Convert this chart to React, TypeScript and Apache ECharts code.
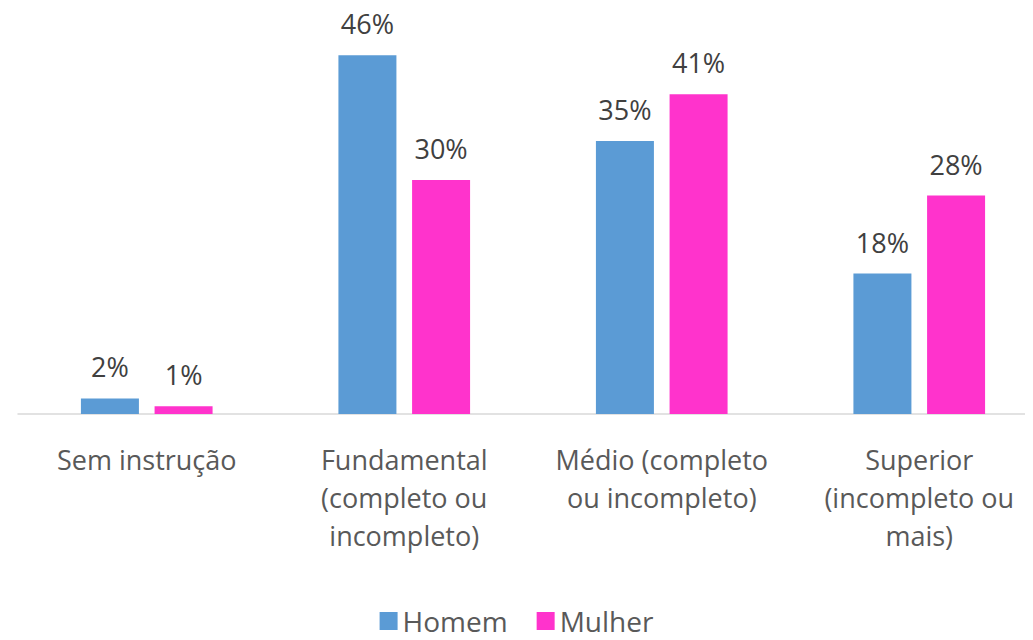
import React, { useEffect, useRef } from "react";
import * as echarts from "echarts";

const categories = [
  "Sem instrução",
  "Fundamental\n(completo ou\nincompleto)",
  "Médio (completo\nou incompleto)",
  "Superior\n(incompleto ou\nmais)",
];
const homem = [2, 46, 35, 18];
const mulher = [1, 30, 41, 28];

const FONT = "'Open Sans', 'Noto Sans', sans-serif";

export default function App() {
  const ref = useRef<HTMLDivElement>(null);
  useEffect(() => {
    const chart = echarts.init(ref.current!, undefined, { renderer: "svg" });
    const label = {
      show: true,
      position: "top",
      distance: 18,
      formatter: "{c}%",
      color: "#404040",
      fontSize: 27,
      fontFamily: FONT,
    };
    chart.setOption({
      animation: false,
      textStyle: { fontFamily: FONT },
      grid: {
        left: 18,
        top: 24,
        width: 1030,
        height: 390,
        containLabel: false,
        outerBoundsMode: "none",
      },
      legend: {
        bottom: 0,
        left: "center",
        itemWidth: 18,
        itemHeight: 18,
        itemGap: 29,
        icon: "rect",
        textStyle: { fontSize: 28, color: "#595959", fontFamily: FONT },
        data: ["Homem", "Mulher"],
      },
      xAxis: {
        type: "category",
        data: categories,
        axisLine: { lineStyle: { color: "#D9D9D9", width: 1.5 } },
        axisTick: { show: false },
        axisLabel: {
          color: "#595959",
          fontSize: 27,
          lineHeight: 38,
          margin: 26,
          fontFamily: FONT,
          interval: 0,
        },
      },
      yAxis: {
        type: "value",
        min: 0,
        max: 50,
        show: false,
        splitLine: { show: false },
      },
      series: [
        {
          name: "Homem",
          type: "bar",
          data: homem,
          barWidth: 58,
          barGap: "27%",
          itemStyle: { color: "#5B9BD5" },
          label,
        },
        {
          name: "Mulher",
          type: "bar",
          data: mulher,
          barWidth: 58,
          barGap: "27%",
          itemStyle: { color: "#FF33CC" },
          label,
        },
      ],
    });
    return () => chart.dispose();
  }, []);
  return <div ref={ref} style={{ width: 1033, height: 640, margin: -8 }} />;
}
